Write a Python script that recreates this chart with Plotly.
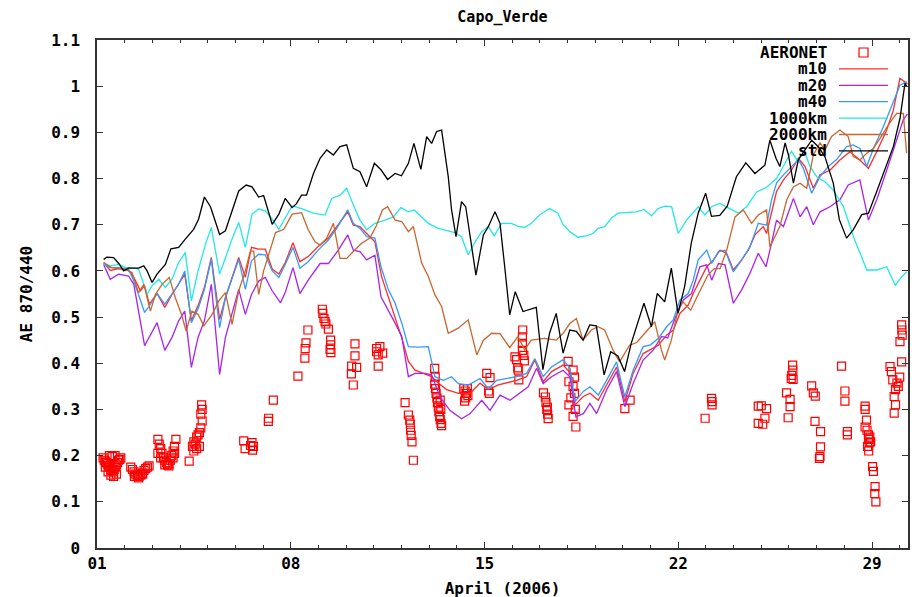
import plotly.graph_objects as go
from datetime import datetime, timedelta

# ---------------- data (day offset from 2006-04-01 00:00, value) ----------------
std = [(0.24,0.625),(0.36,0.63),(0.6,0.629),(0.8,0.615),(0.96,0.6),(1.14,0.606),(1.5,0.606),(1.69,0.611),
       (1.81,0.6),(1.99,0.575),(2.17,0.593),(2.47,0.614),(2.67,0.648),(2.95,0.651),(3.19,0.669),(3.49,0.69),
       (3.67,0.712),(3.88,0.76),(4.1,0.739),(4.28,0.705),(4.43,0.679),(4.64,0.687),(4.88,0.73),(5.12,0.773),
       (5.39,0.786),(5.6,0.782),(5.84,0.76),(6.02,0.763),(6.33,0.701),(6.57,0.723),(6.8,0.757),(7.05,0.737),
       (7.2,0.745),(7.39,0.764),(7.57,0.764),(7.82,0.811),(8.06,0.844),(8.30,0.862),(8.54,0.851),(8.78,0.869),
       (9.02,0.873),(9.26,0.822),(9.5,0.815),(9.74,0.782),(10.02,0.833),(10.26,0.819),(10.5,0.798),(10.77,0.811),
       (11.0,0.806),(11.25,0.833),(11.45,0.876),(11.7,0.82),(11.91,0.891),(12.09,0.876),(12.27,0.902),(12.45,0.905),
       (12.69,0.804),(12.81,0.732),(12.97,0.674),(13.17,0.75),(13.32,0.739),(13.53,0.66),(13.69,0.591),(13.96,0.678),
       (14.14,0.696),(14.38,0.728),(14.56,0.703),(14.73,0.609),(14.91,0.505),(15.11,0.555),(15.39,0.512),(15.87,0.521),
       (16.11,0.386),(16.35,0.465),(16.59,0.508),(16.84,0.422),(17.08,0.472),(17.32,0.469),(17.56,0.45),(17.8,0.483),
       (18.04,0.481),(18.32,0.375),(18.56,0.425),(18.82,0.416),(19.06,0.382),(19.3,0.443),(19.54,0.487),(19.76,0.53),
       (20.03,0.479),(20.24,0.551),(20.51,0.533),(20.75,0.606),(20.99,0.508),(21.23,0.566),(21.47,0.660),(21.72,0.725),
       (21.99,0.768),(22.2,0.718),(22.5,0.72),(22.77,0.74),(23.1,0.804),(23.44,0.834),(23.77,0.811),(24.13,0.829),
       (24.31,0.883),(24.53,0.844),(24.67,0.826),(24.86,0.877),(24.98,0.851),(25.16,0.79),(25.34,0.841),(25.58,0.862),
       (25.82,0.883),(26.06,0.869),(26.3,0.847),(26.6,0.79),(26.82,0.711),(27.08,0.671),(27.32,0.689),(27.63,0.722),
       (27.87,0.725),(28.17,0.772),(28.47,0.819),(28.77,0.869),(29.01,0.93),(29.19,1.006),(29.25,1.0)]

km1000 = [(0.24,0.616),(0.48,0.611),(0.78,0.614),(1.02,0.607),(1.27,0.607),(1.5,0.604),(1.69,0.571),(1.81,0.549),
          (1.99,0.568),(2.23,0.582),(2.47,0.564),(2.71,0.582),(2.95,0.618),(3.19,0.64),(3.41,0.535),(3.65,0.6),
          (3.92,0.658),(4.13,0.694),(4.43,0.593),(4.64,0.629),(4.88,0.669),(5.12,0.705),(5.36,0.651),(5.6,0.723),
          (5.84,0.734),(6.08,0.73),(6.33,0.712),(6.57,0.69),(6.8,0.716),(7.05,0.741),(7.39,0.735),(7.82,0.725),
          (8.24,0.721),(8.48,0.757),(8.78,0.764),(9.02,0.779),(9.26,0.743),(9.5,0.71),(9.74,0.689),(10.04,0.703),
          (10.4,0.71),(10.71,0.717),(10.98,0.737),(11.25,0.728),(11.46,0.732),(11.73,0.717),(11.97,0.703),(12.33,0.692),
          (12.69,0.686),(12.93,0.683),(13.17,0.674),(13.41,0.635),(13.66,0.663),(13.9,0.685),(14.14,0.696),(14.35,0.676),
          (14.62,0.703),(14.97,0.703),(15.2,0.697),(15.45,0.694),(15.69,0.703),(15.99,0.721),(16.35,0.735),(16.65,0.725),
          (16.84,0.7),(17.08,0.685),(17.38,0.673),(17.68,0.676),(17.92,0.681),(18.1,0.692),(18.34,0.696),(18.58,0.714),
          (18.82,0.725),(19.12,0.726),(19.48,0.728),(19.76,0.733),(20.03,0.719),(20.27,0.735),(20.51,0.74),(20.76,0.739),
          (21.0,0.681),(21.3,0.71),(21.72,0.739),(21.96,0.721),(22.2,0.739),(22.5,0.746),(22.74,0.739),(23.17,0.725),
          (23.47,0.739),(23.83,0.771),(24.19,0.781),(24.55,0.8),(24.79,0.826),(25.09,0.859),(25.28,0.841),(25.58,0.855),
          (25.76,0.826),(26.0,0.804),(26.3,0.793),(26.6,0.775),(26.97,0.739),(27.33,0.674),(27.81,0.602),(28.17,0.602),
          (28.53,0.609),(28.84,0.569),(29.08,0.588),(29.26,0.598)]

m40 = [(0.24,0.614),(0.48,0.607),(0.78,0.607),(1.14,0.604),(1.33,0.578),(1.57,0.535),(1.72,0.51),(1.89,0.524),
       (2.17,0.551),(2.45,0.528),(2.71,0.549),(2.95,0.571),(3.17,0.6),(3.41,0.488),(3.67,0.521),(3.88,0.56),
       (4.13,0.625),(4.43,0.477),(4.64,0.542),(4.88,0.586),(5.12,0.625),(5.36,0.56),(5.58,0.622),(5.84,0.636),
       (6.08,0.635),(6.33,0.6),(6.57,0.586),(6.8,0.614),(7.08,0.651),(7.33,0.606),(7.63,0.62),(7.99,0.645),
       (8.36,0.667),(8.66,0.692),(9.06,0.732),(9.26,0.703),(9.5,0.692),(9.74,0.674),(10.04,0.671),(10.26,0.609),
       (10.53,0.559),(10.77,0.53),(11.01,0.487),(11.25,0.436),(11.61,0.435),(11.97,0.436),(12.21,0.371),(12.51,0.363),
       (12.81,0.371),(13.06,0.356),(13.41,0.353),(13.84,0.367),(14.14,0.345),(14.44,0.363),(14.8,0.367),(15.16,0.371),
       (15.52,0.378),(15.82,0.41),(16.12,0.371),(16.42,0.392),(16.84,0.408),(17.09,0.389),(17.27,0.317),(17.57,0.339),
       (17.81,0.349),(18.11,0.331),(18.41,0.363),(18.77,0.403),(19.07,0.327),(19.37,0.385),(19.73,0.436),(20.0,0.44),
       (20.28,0.454),(20.58,0.479),(20.82,0.494),(21.06,0.537),(21.36,0.551),(21.54,0.58),(21.72,0.624),(22.03,0.645),
       (22.21,0.616),(22.45,0.642),(22.69,0.645),(22.99,0.598),(23.29,0.624),(23.59,0.652),(23.89,0.703),(24.19,0.699),
       (24.37,0.754),(24.55,0.79),(24.8,0.808),(25.09,0.826),(25.34,0.841),(25.52,0.822),(25.82,0.768),(26.12,0.804),
       (26.42,0.826),(26.72,0.841),(27.08,0.869),(27.32,0.873),(27.56,0.865),(27.81,0.826),(28.05,0.865),(28.41,0.912),
       (28.77,0.966),(29.01,1.002),(29.25,1.01)]

m10 = [(0.24,0.618),(0.48,0.601),(0.78,0.605),(1.14,0.601),(1.33,0.586),(1.57,0.557),(1.72,0.568),(1.89,0.528),
       (2.17,0.551),(2.45,0.521),(2.71,0.549),(2.95,0.571),(3.17,0.593),(3.41,0.492),(3.67,0.528),(3.88,0.564),
       (4.13,0.629),(4.43,0.495),(4.64,0.542),(4.88,0.586),(5.12,0.629),(5.36,0.586),(5.58,0.651),(5.84,0.647),
       (6.08,0.647),(6.33,0.604),(6.57,0.593),(6.8,0.618),(7.08,0.661),(7.33,0.62),(7.63,0.631),(7.99,0.653),
       (8.36,0.671),(8.66,0.696),(9.06,0.728),(9.26,0.699),(9.5,0.696),(9.74,0.681),(10.04,0.663),(10.28,0.588),
       (10.53,0.544),(10.77,0.5),(11.01,0.455),(11.25,0.404),(11.49,0.385),(11.79,0.378),(12.09,0.371),(12.33,0.357),
       (12.63,0.343),(13.06,0.335),(13.48,0.335),(13.84,0.357),(14.14,0.343),(14.5,0.353),(15.16,0.363),(15.52,0.371),
       (15.82,0.407),(16.12,0.36),(16.42,0.382),(16.84,0.396),(17.09,0.38),(17.27,0.31),(17.57,0.328),(17.81,0.335),
       (18.11,0.32),(18.41,0.353),(18.77,0.392),(19.07,0.317),(19.37,0.378),(19.73,0.421),(20.0,0.43),(20.28,0.439),
       (20.58,0.461),(20.82,0.472),(21.06,0.508),(21.36,0.526),(21.54,0.551),(21.78,0.58),(22.03,0.609),(22.27,0.624),
       (22.51,0.645),(22.75,0.638),(22.99,0.602),(23.29,0.624),(23.53,0.645),(23.77,0.678),(24.07,0.696),(24.19,0.681),
       (24.37,0.725),(24.55,0.772),(24.8,0.797),(25.09,0.818),(25.34,0.844),(25.58,0.826),(25.88,0.779),(26.12,0.808),
       (26.48,0.818),(26.84,0.84),(27.2,0.858),(27.56,0.84),(27.87,0.822),(28.17,0.858),(28.53,0.905),(28.77,0.948),
       (29.01,1.017),(29.19,1.01),(29.28,1.005)]

m20 = [(0.24,0.614),(0.48,0.582),(0.78,0.593),(1.14,0.589),(1.33,0.571),(1.51,0.513),(1.72,0.438),(2.17,0.488),
       (2.45,0.428),(2.71,0.456),(2.95,0.492),(3.17,0.513),(3.41,0.391),(3.65,0.456),(3.88,0.492),(4.13,0.571),
       (4.43,0.376),(4.64,0.456),(4.88,0.506),(5.12,0.56),(5.36,0.506),(5.58,0.549),(5.84,0.578),(6.08,0.586),
       (6.33,0.557),(6.63,0.531),(6.8,0.553),(7.08,0.607),(7.33,0.551),(7.63,0.58),(8.06,0.616),(8.36,0.616),
       (8.72,0.645),(9.06,0.678),(9.26,0.645),(9.5,0.642),(9.74,0.624),(10.04,0.634),(10.26,0.544),(10.53,0.515),
       (10.77,0.487),(11.01,0.458),(11.25,0.371),(11.49,0.378),(11.85,0.378),(12.09,0.375),(12.39,0.327),(12.75,0.298),
       (13.17,0.28),(13.48,0.291),(13.9,0.32),(14.2,0.298),(14.56,0.331),(14.92,0.32),(15.28,0.335),(15.58,0.349),
       (15.88,0.389),(16.12,0.356),(16.42,0.371),(16.84,0.385),(17.09,0.37),(17.3,0.284),(17.57,0.291),(17.81,0.313),
       (18.05,0.291),(18.41,0.342),(18.77,0.382),(19.07,0.306),(19.37,0.356),(19.73,0.407),(20.1,0.429),(20.4,0.458),
       (20.62,0.455),(20.88,0.497),(21.18,0.537),(21.48,0.551),(21.78,0.609),(22.03,0.613),(22.21,0.58),(22.45,0.616),
       (22.69,0.613),(22.99,0.53),(23.29,0.559),(23.59,0.595),(23.89,0.638),(24.17,0.609),(24.37,0.66),(24.55,0.71),
       (24.8,0.696),(25.16,0.757),(25.4,0.717),(25.64,0.739),(25.88,0.7),(26.12,0.728),(26.48,0.739),(26.84,0.754),
       (27.14,0.786),(27.56,0.797),(27.87,0.71),(28.17,0.754),(28.53,0.818),(28.89,0.883),(29.13,0.927),(29.28,0.94)]

km2000 = [(0.24,0.618),(0.54,0.607),(0.78,0.605),(1.02,0.604),(1.27,0.596),(1.5,0.553),(1.69,0.571),(1.93,0.513),
          (2.11,0.549),(2.35,0.571),(2.61,0.586),(2.83,0.542),(3.05,0.506),(3.22,0.47),(3.43,0.513),(3.65,0.506),
          (3.86,0.481),(4.16,0.506),(4.4,0.535),(4.64,0.553),(4.88,0.484),(5.12,0.557),(5.36,0.6),(5.54,0.643),
          (5.66,0.643),(5.84,0.549),(6.02,0.6),(6.2,0.636),(6.45,0.683),(6.75,0.69),(7.05,0.723),(7.39,0.726),
          (7.63,0.689),(7.88,0.663),(8.06,0.656),(8.3,0.671),(8.54,0.703),(8.78,0.627),(9.02,0.627),(9.26,0.642),
          (9.56,0.66),(9.86,0.671),(10.1,0.699),(10.31,0.732),(10.5,0.739),(10.77,0.71),(11.01,0.707),(11.25,0.685),
          (11.43,0.696),(11.73,0.617),(11.97,0.588),(12.21,0.548),(12.45,0.523),(12.69,0.465),(13.05,0.476),(13.41,0.494),
          (13.72,0.418),(13.96,0.45),(14.26,0.465),(14.56,0.464),(14.91,0.434),(15.21,0.458),(15.45,0.429),(15.69,0.45),
          (16.17,0.454),(16.59,0.45),(16.84,0.465),(17.08,0.486),(17.32,0.497),(17.56,0.45),(17.86,0.472),(18.1,0.479),
          (18.34,0.472),(18.64,0.429),(18.88,0.403),(19.24,0.439),(19.5,0.445),(19.79,0.465),(20.15,0.49),(20.39,0.429),
          (20.51,0.407),(20.75,0.45),(20.99,0.515),(21.17,0.533),(21.45,0.515),(21.71,0.548),(22.07,0.591),(22.3,0.605),
          (22.51,0.605),(22.75,0.645),(23.05,0.717),(23.35,0.732),(23.65,0.703),(23.89,0.721),(24.19,0.732),(24.31,0.652),
          (24.67,0.696),(24.92,0.754),(25.16,0.782),(25.4,0.79),(25.64,0.779),(25.88,0.851),(26.12,0.877),(26.3,0.862),
          (26.54,0.891),(26.84,0.905),(27.14,0.891),(27.32,0.848),(27.56,0.84),(27.81,0.855),(28.05,0.865),(28.29,0.887),
          (28.59,0.916),(28.89,0.941),(29.13,0.941),(29.25,0.855)]

aeronet = [
    # Apr 1
    (0.22,0.195),(0.26,0.19),(0.30,0.188),(0.34,0.185),(0.38,0.182),(0.42,0.178),(0.46,0.175),(0.50,0.17),
    (0.54,0.168),(0.58,0.165),(0.62,0.17),(0.66,0.175),(0.70,0.18),(0.74,0.185),(0.78,0.19),(0.82,0.192),
    (0.86,0.195),(0.30,0.175),(0.40,0.165),(0.50,0.158),(0.60,0.155),(0.70,0.16),(0.45,0.2),(0.55,0.198),(0.65,0.2),
    # Apr 2
    (1.22,0.175),(1.28,0.17),(1.34,0.165),(1.40,0.16),(1.46,0.158),(1.52,0.155),(1.58,0.158),(1.64,0.162),
    (1.70,0.168),(1.76,0.172),(1.82,0.175),(1.88,0.178),(1.35,0.155),(1.5,0.152),(1.65,0.16),
    # Apr 3
    (2.2,0.235),(2.25,0.225),(2.3,0.215),(2.35,0.205),(2.4,0.195),(2.45,0.19),(2.5,0.185),(2.55,0.18),
    (2.6,0.182),(2.65,0.19),(2.7,0.2),(2.75,0.21),(2.8,0.22),(2.85,0.235),(2.3,0.195),(2.45,0.18),
    (2.6,0.178),(2.75,0.195),(2.2,0.205),(2.8,0.205),
    # Apr 4
    (3.33,0.188),(3.45,0.22),(3.5,0.23),(3.55,0.225),(3.6,0.24),(3.65,0.245),(3.7,0.25),(3.75,0.26),(3.8,0.275),
    (3.5,0.21),(3.6,0.215),(3.7,0.22),(3.75,0.29),(3.8,0.3),(3.78,0.31),
    # Apr 6-10
    (5.3,0.232),(5.35,0.215),(5.55,0.222),(5.6,0.228),(5.65,0.22),(5.62,0.212),
    (6.19,0.274),(6.2,0.281),(6.37,0.32),(7.26,0.372),
    (7.51,0.411),(7.52,0.432),(7.55,0.444),(7.62,0.472),
    (8.14,0.517),(8.16,0.508),(8.2,0.497),(8.24,0.49),(8.27,0.485),(8.36,0.474),(8.44,0.45),(8.44,0.44),
    (8.42,0.43),(8.45,0.423),
    (9.32,0.442),(9.32,0.416),(9.2,0.394),(9.38,0.391),(9.19,0.377),(9.26,0.353),
    (10.1,0.432),(10.22,0.436),(10.16,0.418),(10.32,0.422),(10.1,0.425),(10.16,0.394),
    # Apr 12-15
    (11.13,0.315),(11.25,0.288),(11.3,0.277),(11.32,0.268),(11.33,0.255),(11.35,0.244),(11.38,0.23),(11.43,0.19),
    (12.2,0.389),(12.22,0.37),(12.2,0.355),(12.23,0.345),(12.25,0.335),(12.28,0.325),(12.3,0.315),(12.33,0.305),
    (12.35,0.295),(12.38,0.285),(12.4,0.278),(12.43,0.27),(12.45,0.265),(12.42,0.3),(12.4,0.32),
    (13.25,0.345),(13.3,0.34),(13.35,0.335),(13.4,0.33),(13.32,0.325),(13.28,0.318),(13.38,0.345),
    (14.08,0.378),(14.2,0.369),(14.17,0.335),(14.15,0.34),
    # Apr 16-20
    (15.38,0.472),(15.37,0.457),(15.37,0.443),(15.37,0.428),(15.42,0.417),(15.1,0.414),(15.16,0.408),
    (15.22,0.385),(15.2,0.39),(15.24,0.364),(15.44,0.405),
    (16.13,0.336),(16.2,0.327),(16.22,0.315),(16.25,0.3),(16.28,0.29),(16.3,0.28),(16.27,0.305),
    (17.02,0.404),(17.2,0.385),(17.25,0.37),(17.2,0.35),(17.05,0.36),(17.25,0.335),(17.12,0.325),(17.05,0.31),
    (17.28,0.3),(17.2,0.285),(17.3,0.262),
    (19.07,0.302),(19.26,0.32),
    # Apr 22-30
    (21.97,0.281),(22.2,0.324),(22.22,0.317),(22.22,0.31),
    (23.89,0.307),(24.0,0.308),(24.19,0.302),(23.89,0.27),(24.05,0.268),(24.13,0.281),
    (25.13,0.396),(25.14,0.385),(25.1,0.374),(25.08,0.367),(25.15,0.365),(24.91,0.336),(25.04,0.322),
    (25.04,0.306),(24.97,0.282),
    (25.82,0.351),(25.88,0.336),(25.95,0.329),(25.94,0.274),(26.14,0.252),(26.14,0.219),(26.12,0.198),(26.1,0.194),
    (26.9,0.394),(27.02,0.34),(27.02,0.318),(27.11,0.252),(27.11,0.245),
    (27.75,0.307),(27.75,0.3),(27.8,0.277),(27.75,0.262),(27.82,0.255),(27.87,0.245),(27.88,0.235),(27.84,0.22),
    (27.88,0.21),(28.02,0.176),(28.05,0.166),(28.11,0.133),(28.1,0.118),(28.14,0.1),(27.9,0.228),(27.92,0.24),
    (27.95,0.23),
    (29.07,0.483),(29.08,0.472),(29.09,0.461),(29.01,0.447),(29.07,0.403),(28.65,0.393),(28.7,0.382),(28.75,0.364),
    (28.9,0.357),(28.85,0.343),(28.8,0.328),(28.85,0.31),(28.8,0.292),(29.0,0.37),(28.95,0.35),
]

series_names = ["m10", "m20", "m40", "1000km", "2000km", "std"]
series_data = [m10, m20, m40, km1000, km2000, std]
series_colors = ["#ff2a2a", "#aa22ee", "#3399ff", "#22e8e8", "#c8662e", "#000000"]

base = datetime(2006, 4, 1)


def unpack(pairs):
    xs = [base + timedelta(days=d) for d, _ in pairs]
    ys = [v for _, v in pairs]
    return xs, ys


FONT = "DejaVu Sans Mono"
FS = 16

fig = go.Figure()

ax, ay = unpack(aeronet)
fig.add_trace(go.Scatter(x=ax, y=ay, mode="markers", name="AERONET",
                         marker=dict(symbol="square-open", size=8, color="#ff0000",
                                     line=dict(width=1.2, color="#ff0000")),
                         showlegend=False))

for name, data, col in zip(series_names, series_data, series_colors):
    xs, ys = unpack(data)
    fig.add_trace(go.Scatter(x=xs, y=ys, mode="lines", name=name,
                             line=dict(color=col, width=1.3), showlegend=False))

# --- page geometry: the page body adds an 8px offset around the figure ---
W, H = 919, 597
OFF = 8
PL, PR, PT, PB = 97, 908, 40, 548          # plot area in screen pixels
L = PL - OFF
T = PT - OFF
R = W - (PR - OFF)
B = H - (PB - OFF)
pw, ph = PR - PL, PB - PT


def px(x):
    return (x - PL) / pw


def py(y):
    return (PB - y) / ph


key_labels = ["AERONET"] + series_names
key_colors = [None] + series_colors
for i, (lab, col) in enumerate(zip(key_labels, key_colors)):
    yrow = 52.5 + i * 16.4
    fig.add_annotation(x=px(829), y=py(yrow), xref="paper", yref="paper",
                       text=lab, showarrow=False, xanchor="right", yanchor="middle",
                       font=dict(family=FONT, size=FS, color="black", weight="bold"))
    if col is None:
        fig.add_shape(type="rect", xref="paper", yref="paper",
                      x0=px(859), x1=px(868), y0=py(yrow - 4.5), y1=py(yrow + 4.5),
                      line=dict(color="#ff0000", width=1.2))
    else:
        fig.add_shape(type="line", xref="paper", yref="paper",
                      x0=px(839), x1=px(888), y0=py(yrow), y1=py(yrow),
                      line=dict(color=col, width=1.3))

fig.update_layout(
    width=W, height=H,
    margin=dict(l=L, r=R, t=T, b=B, autoexpand=False),
    paper_bgcolor="white", plot_bgcolor="white",
    font=dict(family=FONT, size=FS, color="black", weight="bold"),
    title=dict(text="Capo_Verde", xref="paper", x=0.5, xanchor="center",
               yref="container", y=1 - (16.5 - OFF) / H, yanchor="middle",
               font=dict(family=FONT, size=15, weight="bold")),
    showlegend=False,
)

fig.update_xaxes(
    type="date", automargin=False,
    range=[base, base + timedelta(days=29.3)],
    tick0=base, dtick=7 * 86400000, tickformat="%d",
    ticks="inside", ticklen=6, tickcolor="#333",
    minor=dict(dtick=86400000, ticks="inside", ticklen=3, tickcolor="#333"),
    showline=True, linecolor="#333", linewidth=1.5, mirror="ticks",
    showgrid=False, zeroline=False,
    ticklabelstandoff=0,
    title=dict(text="April (2006)", standoff=11, font=dict(family=FONT, size=FS, weight="bold")),
)

fig.update_yaxes(
    automargin=False,
    range=[0, 1.1], dtick=0.1, tick0=0,
    ticks="inside", ticklen=6, tickcolor="#333",
    showline=True, linecolor="#333", linewidth=1.5, mirror="ticks",
    showgrid=False, zeroline=False,
    ticklabelstandoff=12,
    title=dict(text="AE 870/440", standoff=15, font=dict(family=FONT, size=FS, weight="bold")),
)

fig.write_html("out.html")
